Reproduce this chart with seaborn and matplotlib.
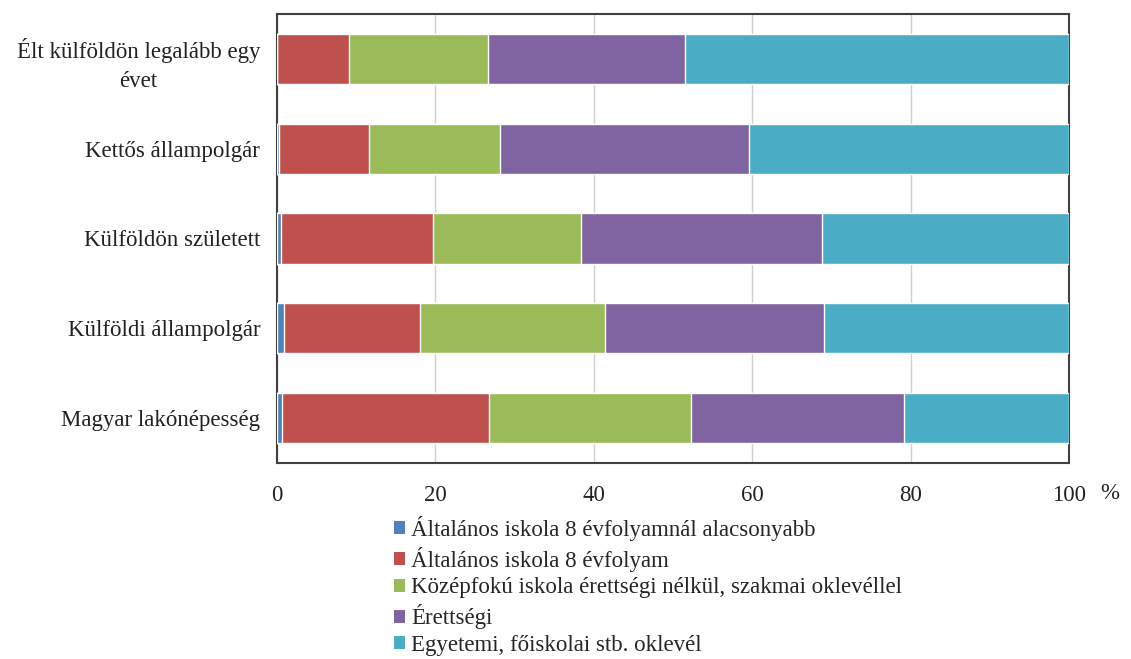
import matplotlib
matplotlib.use("Agg")
import matplotlib.pyplot as plt
import seaborn as sns
import numpy as np
import pandas as pd
from matplotlib.patches import Patch

categories = ["Élt külföldön legalább egy\névet", "Kettős állampolgár",
              "Külföldön született", "Külföldi állampolgár", "Magyar lakónépesség"]
series_names = ["Általános iskola 8 évfolyamnál alacsonyabb",
                "Általános iskola 8 évfolyam",
                "Középfokú iskola érettségi nélkül, szakmai oklevéllel",
                "Érettségi",
                "Egyetemi, főiskolai stb. oklevél"]
below8 = [0.0, 0.3, 0.5, 0.85, 0.6]
grade8 = [9.1, 11.3, 19.2, 17.2, 26.2]
vocational = [17.5, 16.6, 18.7, 23.4, 25.5]
matura = [24.9, 31.4, 30.4, 27.6, 26.9]
university = [48.5, 40.4, 31.2, 31.0, 20.8]
xticks = [0, 20, 40, 60, 80, 100]
colors = ["#4F81BD", "#C0504D", "#9BBB59", "#8064A2", "#4BACC6"]

sns.set_theme(style="white")
plt.rcParams["font.family"] = ["Liberation Serif", "DejaVu Serif"]

series = [below8, grade8, vocational, matura, university]
cum = np.cumsum(np.array(series), axis=0)

fig = plt.figure(figsize=(11.31, 6.59), dpi=100)
ax = fig.add_axes([277/1131, 1-463/659, (1069-277)/1131, (463-14)/659])

for i in range(len(series) - 1, -1, -1):
    df = pd.DataFrame({"cat": categories, "val": cum[i]})
    sns.barplot(data=df, x="val", y="cat", orient="h", color=colors[i],
                saturation=1, width=0.56, ax=ax, zorder=3)

ax.set_xlim(0, 100)
ax.set_ylim(4.5, -0.5)
ax.set_xticks(xticks)
ax.set_xticklabels([str(t) for t in xticks])
ax.set_xlabel("")
ax.set_ylabel("")
ax.grid(axis="x", color="#d0d0d0", linewidth=1, zorder=0)
ax.grid(axis="y", visible=False)
ax.set_axisbelow(True)
for s in ax.spines.values():
    s.set_visible(True)
    s.set_color("#404040")
    s.set_linewidth(1.5)
ax.tick_params(axis="x", length=0, pad=16, labelsize=16.5, labelcolor="#222222")
ax.tick_params(axis="y", length=0, pad=12, labelsize=16.5, labelcolor="#222222")
for lbl in ax.get_yticklabels():
    lbl.set_multialignment("center")
    lbl.set_linespacing(1.45)
ax.text(1.052, -0.067, "%", transform=ax.transAxes, fontsize=16.5, color="#222222",
        ha="center", va="center")

handles = [Patch(facecolor=c, edgecolor="none") for c in colors]
fig.legend(handles, series_names, loc="upper left", bbox_to_anchor=(394/1131, 1-516/659),
           frameon=False, fontsize=16.5, handlelength=0.5, handleheight=0.5,
           handletextpad=0.25, labelspacing=0.25, borderpad=0, borderaxespad=0)

fig.savefig("out.png", dpi=100)
